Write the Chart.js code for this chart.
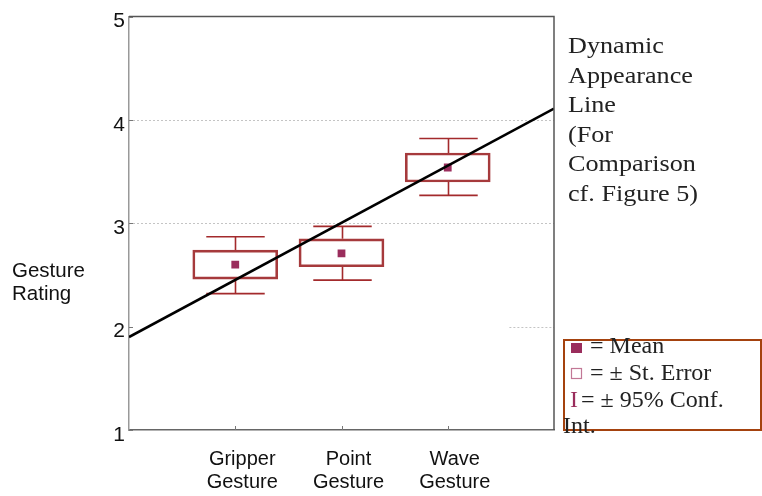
<!DOCTYPE html>
<html>
<head>
<meta charset="utf-8">
<script src="https://cdn.jsdelivr.net/npm/chart.js@4.4.1/dist/chart.umd.min.js"></script>
<style>
  html, body { margin: 0; padding: 0; background: #fff; }
  #wrap { width: 762px; height: 496px; }
</style>
</head>
<body>
<div id="wrap"><canvas id="myChart1" width="762" height="496"></canvas></div>
<script>
// data
const categories = [['Gripper', 'Gesture'], ['Point', 'Gesture'], ['Wave', 'Gesture']];
const positions = [1, 2, 3];
const means = [2.60, 2.71, 3.54];
const seLow = [2.46, 2.58, 3.40];
const seHigh = [2.74, 2.85, 3.68];
const ciLow = [2.32, 2.45, 3.27];
const ciHigh = [2.87, 2.97, 3.82];
const lineX = [0, 4];
const lineY = [1.90, 4.11];
const yTicks = [1, 2, 3, 4, 5];
const gridValues = [3, 4];

const boxColor = '#a63a3c';
const whiskerColor = '#a32a2c';
const meanColor = '#9a2d5c';

const extras = {
  id: 'extras',
  beforeDatasetsDraw(chart) {
    const { ctx, chartArea: a, scales: { x, y } } = chart;
    ctx.save();
    // dotted grid lines
    ctx.strokeStyle = '#c4c4c4';
    ctx.lineWidth = 1;
    ctx.setLineDash([2, 2]);
    gridValues.forEach(v => {
      const py = Math.round(y.getPixelForValue(v)) + 0.5;
      ctx.beginPath(); ctx.moveTo(a.left, py); ctx.lineTo(a.right, py); ctx.stroke();
    });
    const p2 = Math.round(y.getPixelForValue(2)) + 0.5;
    ctx.beginPath(); ctx.moveTo(x.getPixelForValue(3.58), p2); ctx.lineTo(a.right, p2); ctx.stroke();
    ctx.setLineDash([]);

    // whiskers (95% conf. int.)
    ctx.strokeStyle = whiskerColor;
    ctx.lineWidth = 1.6;
    positions.forEach((pos, i) => {
      const cx = Math.round(x.getPixelForValue(pos)) + 0.5;
      const half = (x.getPixelForValue(pos + 0.275) - x.getPixelForValue(pos));
      const yTop = y.getPixelForValue(ciHigh[i]);
      const yBot = y.getPixelForValue(ciLow[i]);
      ctx.beginPath();
      ctx.moveTo(cx, yTop); ctx.lineTo(cx, y.getPixelForValue(seHigh[i]));
      ctx.moveTo(cx, y.getPixelForValue(seLow[i])); ctx.lineTo(cx, yBot);
      ctx.moveTo(cx - half, yTop); ctx.lineTo(cx + half, yTop);
      ctx.moveTo(cx - half, yBot); ctx.lineTo(cx + half, yBot);
      ctx.stroke();
    });
    ctx.restore();
  },
  afterDraw(chart) {
    const { ctx, chartArea: a, scales: { x, y } } = chart;
    ctx.save();
    // frame: top and right
    ctx.strokeStyle = '#555';
    ctx.lineWidth = 1.5;
    ctx.beginPath();
    ctx.moveTo(a.left, a.top); ctx.lineTo(a.right, a.top); ctx.lineTo(a.right, a.bottom);
    ctx.stroke();
    // small inner ticks
    ctx.lineWidth = 1;
    ctx.strokeStyle = '#777';
    ctx.beginPath();
    yTicks.forEach(v => {
      const py = Math.round(y.getPixelForValue(v)) + 0.5;
      ctx.moveTo(a.left, py); ctx.lineTo(a.left + 4, py);
    });
    positions.forEach(v => {
      const px = Math.round(x.getPixelForValue(v)) + 0.5;
      ctx.moveTo(px, a.bottom); ctx.lineTo(px, a.bottom - 4);
    });
    ctx.stroke();

    // y axis title
    ctx.fillStyle = '#111';
    ctx.font = '20.5px "Liberation Sans", Arial, sans-serif';
    ctx.textAlign = 'left';
    ctx.textBaseline = 'alphabetic';
    ctx.fillText('Gesture', 12, 277);
    ctx.fillText('Rating', 12, 300);

    // annotation for the line (text is slightly wide in the original)
    ctx.fillStyle = '#222';
    ctx.font = '24px "Liberation Serif", "Times New Roman", serif';
    ctx.save();
    ctx.translate(568, 0);
    ctx.scale(1.09, 1);
    ['Dynamic', 'Appearance', 'Line', '(For', 'Comparison', 'cf. Figure 5)'].forEach((t, i) => {
      ctx.fillText(t, 0, 53 + i * 29.5);
    });
    ctx.restore();

    // legend box
    ctx.strokeStyle = '#a4420e';
    ctx.lineWidth = 2;
    ctx.strokeRect(564, 340, 197, 90);
    ctx.fillStyle = meanColor;
    ctx.fillRect(571, 343, 11, 10);
    ctx.strokeStyle = '#c27896';
    ctx.lineWidth = 1.2;
    ctx.strokeRect(571.5, 368.5, 10, 10);
    ctx.font = '24px "Liberation Serif", "Times New Roman", serif';
    ctx.fillStyle = meanColor;
    ctx.fillText('I', 570, 407);
    ctx.fillStyle = '#222';
    ctx.fillText('= Mean', 590, 353);
    ctx.fillText('= \u00b1 St. Error', 590, 380);
    ctx.fillText('= \u00b1 95% Conf.', 581, 407);
    ctx.fillText('Int.', 563, 433);
    ctx.restore();
  }
};

new Chart(document.getElementById('myChart1'), {
  type: 'bar',
  data: {
    datasets: [
      {
        type: 'line',
        data: lineX.map((v, i) => ({ x: v, y: lineY[i] })),
        borderColor: '#000',
        borderWidth: 2.6,
        pointRadius: 0,
        order: 0
      },
      {
        type: 'scatter',
        data: positions.map((v, i) => ({ x: v, y: means[i] })),
        pointStyle: 'rect',
        pointRadius: 5.5,
        backgroundColor: meanColor,
        borderWidth: 0,
        order: 1
      },
      {
        type: 'bar',
        data: positions.map((v, i) => ({ x: v, y: [seLow[i], seHigh[i]] })),
        backgroundColor: 'rgba(255,255,255,0)',
        borderColor: boxColor,
        borderWidth: 2,
        borderSkipped: false,
        barThickness: 85,
        order: 2
      }
    ]
  },
  options: {
    responsive: false,
    animation: false,
    layout: { padding: { left: 0, right: 208, top: 14, bottom: 0 } },
    plugins: { legend: { display: false }, tooltip: { enabled: false } },
    scales: {
      x: {
        type: 'linear',
        min: 0,
        max: 4,
        offset: false,
        afterBuildTicks: s => { s.ticks = positions.map(v => ({ value: v })); },
        afterFit: s => { s.height = 66; },
        grid: { display: false, drawTicks: false },
        border: { color: '#666', width: 1.5 },
        ticks: {
          padding: 18,
          labelOffset: 7,
          color: '#111',
          font: { family: '"Liberation Sans", Arial, sans-serif', size: 20, lineHeight: 1.15 },
          callback: v => categories[positions.indexOf(v)] || ''
        }
      },
      y: {
        min: 1,
        max: 5,
        afterBuildTicks: s => { s.ticks = yTicks.map(v => ({ value: v })); },
        afterFit: s => { s.width = 129; },
        grid: { display: false, drawTicks: false },
        border: { color: '#999', width: 1.5 },
        ticks: {
          padding: 4,
          labelOffset: 5,
          color: '#111',
          font: { family: '"Liberation Sans", Arial, sans-serif', size: 21 }
        }
      }
    }
  },
  plugins: [extras]
});
</script>
</body>
</html>
